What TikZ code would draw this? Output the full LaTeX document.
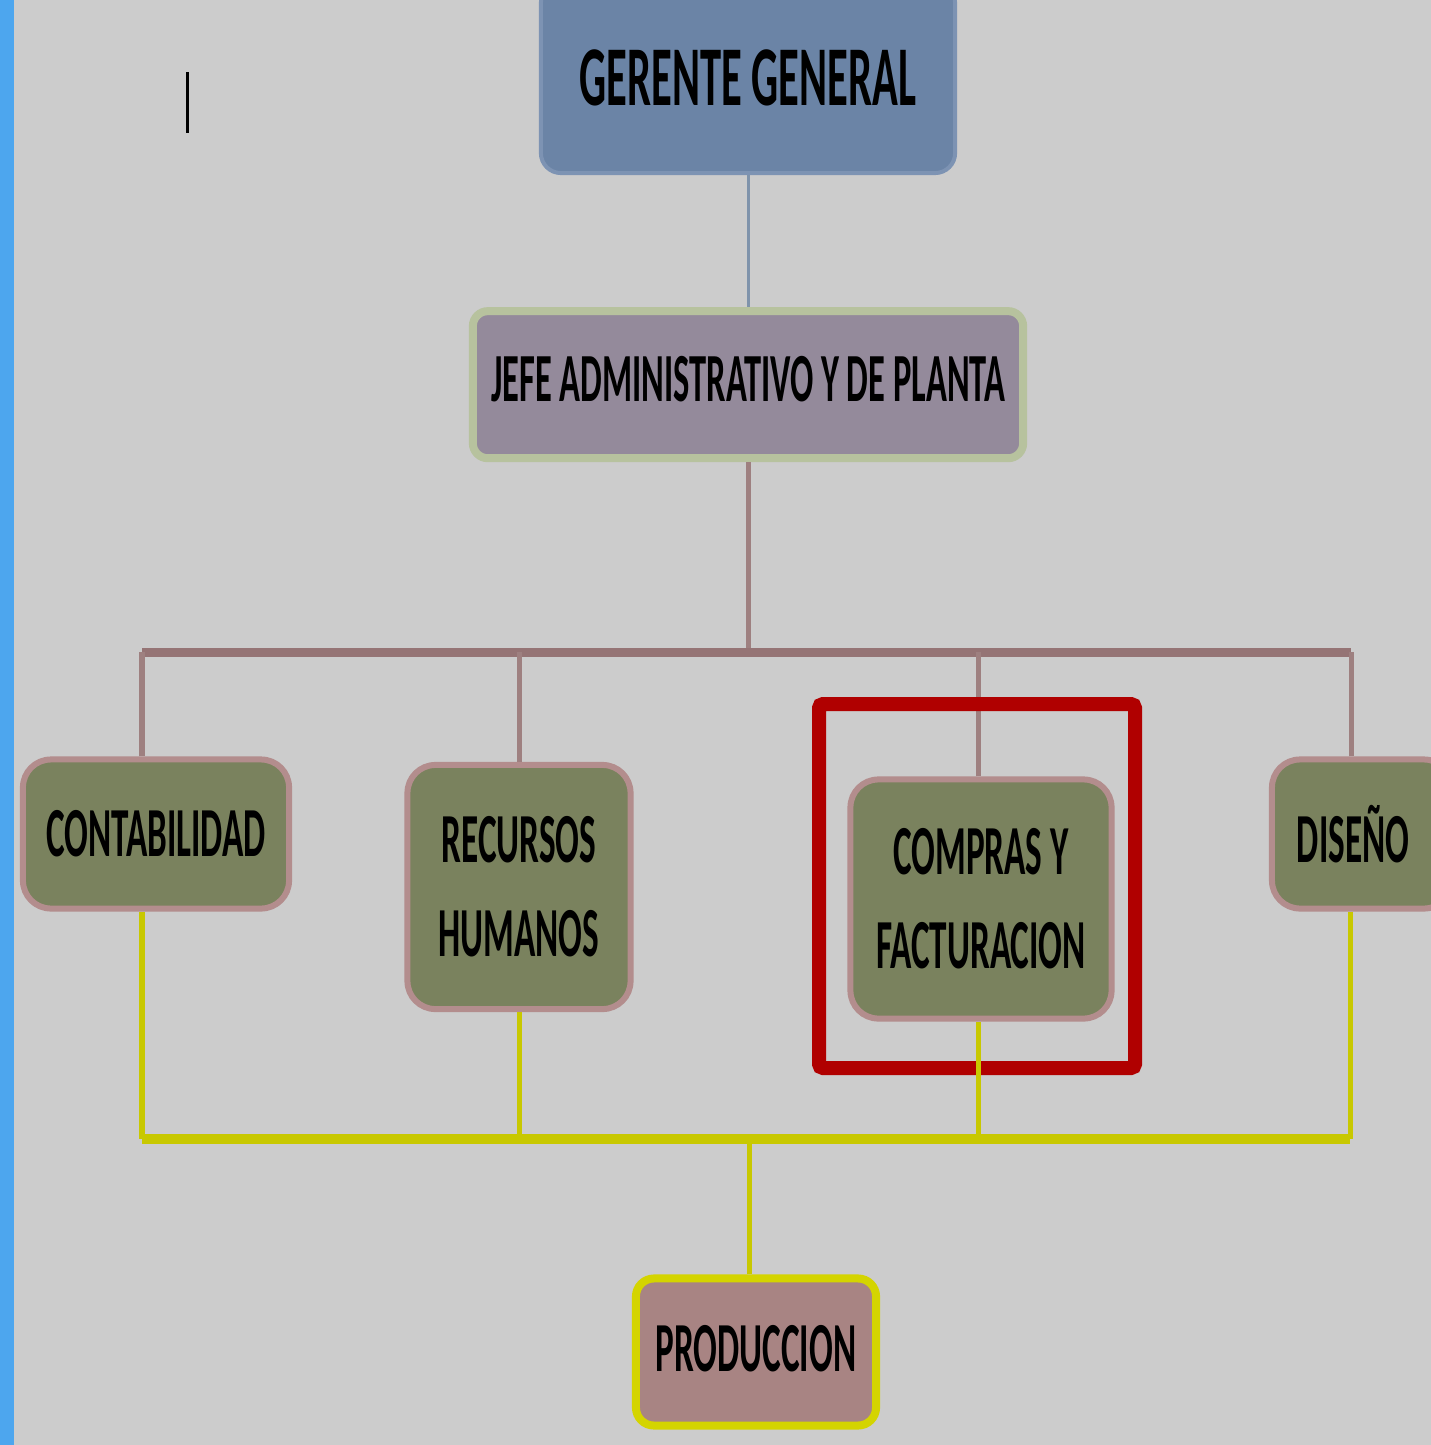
\documentclass[tikz,border=0pt]{standalone}
\usepackage{fontspec}
\newfontfamily\orgfont{Carlito}[FakeStretch=0.5]
\usetikzlibrary{positioning}
\definecolor{paper}{HTML}{CCCCCC}
\definecolor{stripe}{HTML}{4DA6EE}
\definecolor{ggfill}{HTML}{6B84A6}
\definecolor{ggedge}{HTML}{7D93B3}
\definecolor{jefefill}{HTML}{948A9B}
\definecolor{jefeedge}{HTML}{B7C29E}
\definecolor{olive}{HTML}{7A825E}
\definecolor{roseedge}{HTML}{B38D8D}
\definecolor{prodfill}{HTML}{A88483}
\definecolor{prodedge}{HTML}{D4D400}
\definecolor{topline}{HTML}{7F93AB}
\definecolor{midline}{HTML}{9E8080}
\definecolor{busline}{HTML}{957475}
\definecolor{lowline}{HTML}{C8C800}
\definecolor{frame}{HTML}{B00000}
\tikzset{
  box/.style={rectangle, rounded corners=0.28cm, align=center, text=black,
    font=\orgfont\bfseries\fontsize{20}{26.7}\selectfont},
  ggbox/.style={box, fill=ggfill, draw=ggedge, line width=0.04cm,
    minimum width=4.14cm, minimum height=1.9cm, rounded corners=0.2cm,
    font=\orgfont\bfseries\fontsize{24.2}{28}\selectfont},
  jefebox/.style={box, fill=jefefill, draw=jefeedge, line width=0.08cm,
    minimum width=5.5cm, minimum height=1.47cm, rounded corners=0.15cm,
    text depth=0.12cm, font=\orgfont\bfseries\fontsize{19.6}{22}\selectfont},
  areabox/.style={box, fill=olive, draw=roseedge, line width=0.06cm},
  prodbox/.style={box, fill=prodfill, draw=prodedge, line width=0.08cm,
    minimum width=2.4cm, minimum height=1.47cm, rounded corners=0.18cm,
    text depth=0.08cm},
  upper/.style={topline, line width=0.03cm},
  middle/.style={midline, line width=0.05cm},
  lower/.style={lowline, line width=0.05cm},
}
\begin{document}
\begin{tikzpicture}[x=0.01cm, y=-0.01cm]
\fill[paper] (0,0) rectangle (1431,1445);
\useasboundingbox (0,0) rectangle (1431,1445);
\clip (0,0) rectangle (1431,1445);
\fill[stripe] (0,0) rectangle (14,1445);
\draw[line width=0.03cm] (187,72) -- (187,133);

\node(gg)      [ggbox] at (748,78) {GERENTE GENERAL};
\node(jefe)    [jefebox, below=1.32cm of gg] {JEFE ADMINISTRATIVO Y DE PLANTA};
\node(contab)  [areabox, minimum width=2.66cm, minimum height=1.49cm] at (156,834) {CONTABILIDAD};
\node(rrhh)    [areabox, minimum width=2.23cm, minimum height=2.44cm] at (519,887) {RECURSOS\\HUMANOS};
\node(compras) [areabox, minimum width=2.61cm, minimum height=2.39cm] at (981,899) {COMPRAS Y\\FACTURACION};
\node(diseno)  [areabox, minimum width=1.8cm, minimum height=1.49cm, text width=1.3cm] at (1362,834) {DISEÑO\hspace*{0.2cm}};
\node(prod)    [prodbox] at (756,1352) {PRODUCCION};

\coordinate(topL) at (142,652);
\coordinate(topR) at (1351,652);
\coordinate(botL) at (142,1139);
\coordinate(botM) at (749,1139);
\coordinate(botR) at (1350,1139);

\draw[upper] (gg.south) -- (jefe.north);
\draw[middle] (jefe.south) -- (jefe.south |- topL);
\draw[busline, line width=0.09cm] (topL) -- (topR);
\draw[middle] (contab.north -| topL) -- (topL);
\draw[middle] (rrhh.north) -- (rrhh.north |- topL);
\draw[middle] (compras.north -| 978,0) -- (978,652);
\draw[middle] (diseno.north -| topR) -- (topR);

\draw[frame, line width=0.14cm, rounded corners=0.04cm] (819,704) rectangle (1135,1068);

\draw[lower] (contab.south -| botL) -- (botL);
\draw[lower] (rrhh.south) -- (rrhh.south |- botL);
\draw[lower] (compras.south -| 978,0) -- (978,1139);
\draw[lower] (diseno.south -| botR) -- (botR);
\draw[lowline, line width=0.1cm] (botL) -- (botR);
\draw[lower] (prod.north -| botM) -- (botM);
\end{tikzpicture}
\end{document}
